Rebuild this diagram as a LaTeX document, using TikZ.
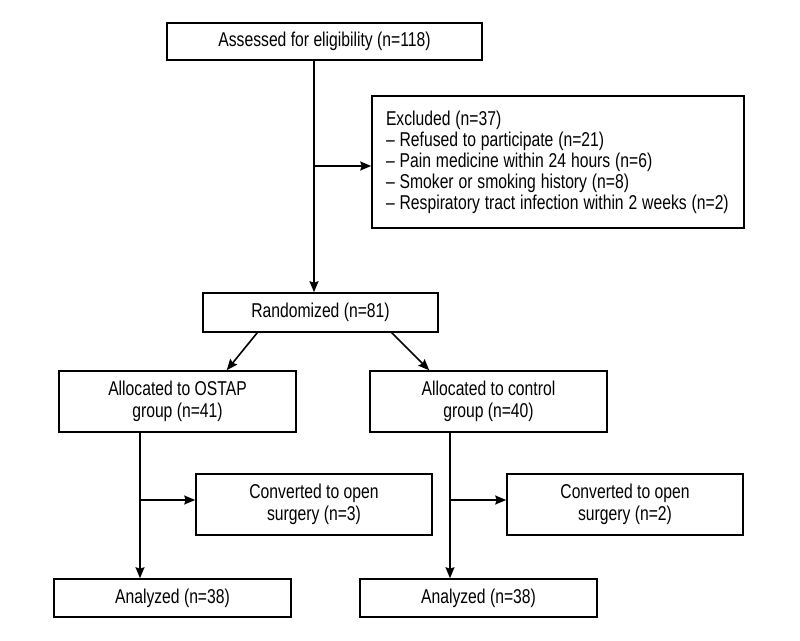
\documentclass[tikz,border=0pt]{standalone}
\usepackage{fontspec}
\setmainfont{Liberation Sans}[FakeStretch=0.785]
\usetikzlibrary{arrows.meta,calc}
\newcommand\mytightspace{\spaceskip=4.9pt\relax\xspaceskip=4.9pt\relax}
\tikzset{
  box/.style={draw, line width=1.6pt, rectangle, inner sep=0pt, align=center,
    font=\fontsize{20}{21.5}\selectfont},
  arr/.style={line width=1.6pt, -{Stealth[length=11pt,width=9pt,inset=1.5pt]}},
}
\begin{document}
\begin{tikzpicture}[x=1pt,y=-1pt]
\useasboundingbox (0,0) rectangle (800,640);
\node[box, minimum width=315pt, minimum height=37pt] (top) at (324.5,41.5) {Assessed for eligibility (n=118)};
\node[box, minimum width=372pt, minimum height=132pt, text width=344pt, align=left,
      font=\fontsize{20}{21}\selectfont] (excl) at (558,162)
  {\mytightspace\mbox{Excluded (n=37)}\\
   \mbox{\mytightspace -- Refused to participate (n=21)}\\
   \mbox{\mytightspace -- Pain medicine within 24 hours (n=6)}\\
   \mbox{\mytightspace -- Smoker or smoking history (n=8)}\\
   \mbox{\mytightspace -- Respiratory tract infection within 2 weeks (n=2)}};
\node[box, minimum width=235pt, minimum height=39pt] (rand) at (320.5,312.5) {Randomized (n=81)};
\node[box, minimum width=237pt, minimum height=61pt] (ostap) at (177.5,401.5) {Allocated to OSTAP\\group (n=41)};
\node[box, minimum width=237pt, minimum height=61pt] (ctrl) at (488.5,401.5) {Allocated to control\\group (n=40)};
\node[box, minimum width=236pt, minimum height=61pt] (conv1) at (314,504.5) {Converted to open\\surgery (n=3)};
\node[box, minimum width=236pt, minimum height=61pt] (conv2) at (625,504.5) {Converted to open\\surgery (n=2)};
\node[box, minimum width=237pt, minimum height=38pt] (an1) at (172.5,598) {Analyzed (n=38)};
\node[box, minimum width=237pt, minimum height=38pt] (an2) at (478.5,598) {Analyzed (n=38)};
% trunk
\coordinate (trunk) at (314,166);
\draw[arr] (top.south -| trunk) -- (rand.north -| trunk);
\draw[arr] (trunk) -- (trunk -| excl.west);
% diagonals
\coordinate (dl1) at ($(rand.south west)+(55,0)$);
\coordinate (dl2) at ($(ostap.north east)+(-70,0)$);
\coordinate (dr1) at ($(rand.south east)+(-47,0)$);
\coordinate (dr2) at ($(ctrl.north west)+(60,0)$);
\draw[arr] (dl1) -- (dl2);
\draw[arr] (dr1) -- (dr2);
% left column
\coordinate (lb) at (140,500);
\draw[arr] (ostap.south -| lb) -- (an1.north -| lb);
\draw[arr] (lb) -- (lb -| conv1.west);
% right column
\coordinate (rb) at (450,500);
\draw[arr] (ctrl.south -| rb) -- (an2.north -| rb);
\draw[arr] (rb) -- (rb -| conv2.west);
\end{tikzpicture}
\end{document}
